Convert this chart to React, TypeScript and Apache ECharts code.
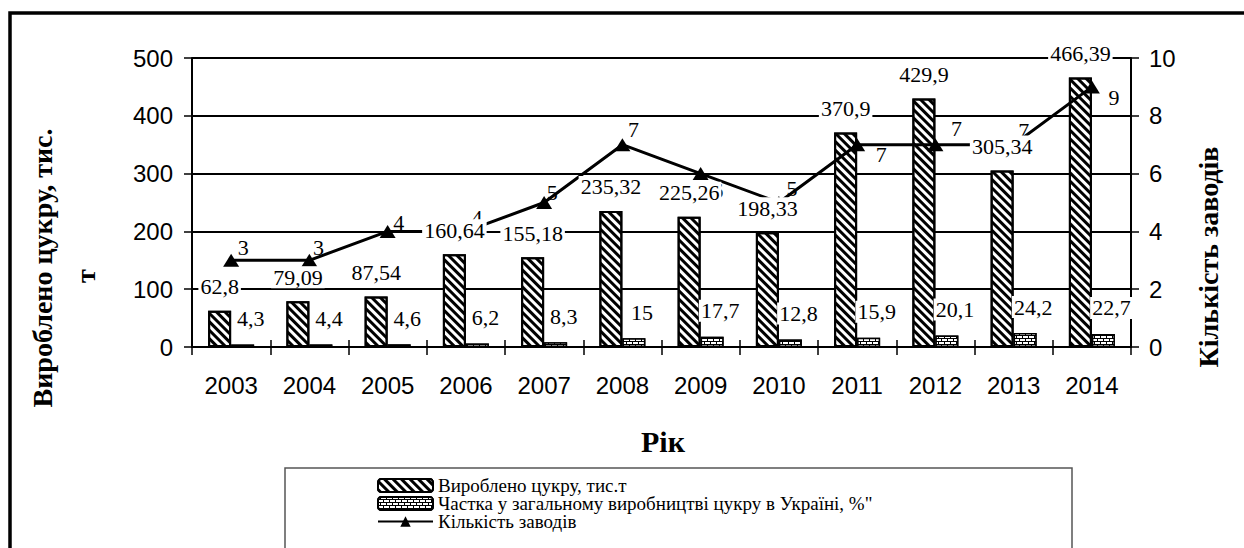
import React, { useEffect, useRef } from "react";
import * as echarts from "echarts";

const years = ["2003", "2004", "2005", "2006", "2007", "2008", "2009", "2010", "2011", "2012", "2013", "2014"];
const sugarProduced = [62.8, 79.09, 87.54, 160.64, 155.18, 235.32, 225.26, 198.33, 370.9, 429.9, 305.34, 466.39];
const shareUkraine = [4.3, 4.4, 4.6, 6.2, 8.3, 15, 17.7, 12.8, 15.9, 20.1, 24.2, 22.7];
const plantsCount = [3, 3, 4, 4, 5, 7, 6, 5, 7, 7, 7, 9];

const seriesNames = [
  "Вироблено цукру, тис.т",
  "Частка у загальному виробництві цукру в Україні, %\"",
  "Кількість заводів",
];
const leftTitle = "Вироблено цукру, тис.";
const leftTitle2 = "т";
const rightTitle = "Кількість заводів";
const xTitle = "Рік";

// label placement (style only)
const lineLabelOffsets = [
  [12, -13], [9, -13], [11, -9], [11, -14], [8, -10], [11, -15],
  [17, 17], [13, -14], [24, 10], [21, -16], [10, -14], [22, 11],
];

const fmt = (v: number) => String(v).replace(".", ",");

export default function App() {
  const ref = useRef<HTMLDivElement>(null);
  useEffect(() => {
    if (!ref.current) return;
    const chart = echarts.init(ref.current, undefined, { renderer: "svg" });
    const serif = "Liberation Serif";
    const sans = "Liberation Sans";
    const hatch = {
      symbol: "rect",
      symbolSize: 1,
      color: "#000",
      dashArrayX: [1, 0],
      dashArrayY: [2.5, 2.5],
      rotation: Math.PI / 4,
    };
    const brick = {
      symbol: "rect",
      symbolSize: 1,
      color: "#fff",
      dashArrayX: [[5, 1], [2, 1, 3, 0]],
      dashArrayY: [2, 1],
    };
    const barLabelBase = {
      show: true,
      position: "top",
      fontFamily: serif,
      fontSize: 22,
      color: "#000",
      backgroundColor: "#fff",
      padding: [0, 2],
      formatter: (p: any) => fmt(p.value),
    };
    const option: any = {
      animation: false,
      backgroundColor: "#fff",
      grid: { left: 192, right: 113, top: 58, bottom: 201, containLabel: false },
      legend: {
        data: seriesNames,
        orient: "vertical",
        left: 377,
        top: 476,
        itemWidth: 55,
        itemHeight: 13,
        itemGap: -1,
        padding: 0,
        selectedMode: false,
        textStyle: { fontFamily: serif, fontSize: 19, color: "#000" },
      },
      xAxis: [
        {
          type: "category",
          data: years,
          axisLine: { lineStyle: { color: "#000", width: 2 } },
          axisTick: { show: true, length: 8, lineStyle: { color: "#000", width: 1.5 } },
          axisLabel: { fontFamily: sans, fontSize: 24, color: "#000", margin: 26 },
        },
        {
          type: "category",
          data: years,
          position: "bottom",
          show: true,
          axisLine: { show: false },
          axisTick: { show: true, inside: true, length: 7, lineStyle: { color: "#000", width: 1.5 } },
          axisLabel: { show: false },
        },
      ],
      yAxis: [
        {
          type: "value",
          min: 0,
          max: 500,
          interval: 100,
          axisLine: { show: true, lineStyle: { color: "#000", width: 2 } },
          axisTick: { show: true, length: 8, lineStyle: { color: "#000", width: 1.5 } },
          axisLabel: { fontFamily: sans, fontSize: 24, color: "#000", margin: 19 },
          splitLine: { show: true, lineStyle: { color: "#000", width: 2 } },
        },
        {
          type: "value",
          min: 0,
          max: 10,
          interval: 2,
          position: "right",
          axisLine: { show: true, lineStyle: { color: "#000", width: 2 } },
          axisTick: { show: true, length: 8, lineStyle: { color: "#000", width: 1.5 } },
          axisLabel: { fontFamily: sans, fontSize: 24, color: "#000", margin: 18 },
          splitLine: { show: false },
        },
      ],
      series: [
        {
          name: seriesNames[0],
          type: "bar",
          z: 2,
          barWidth: 23,
          barGap: "0%",
          data: sugarProduced,
          itemStyle: { color: "#fff", borderColor: "#000", borderWidth: 2, decal: hatch },
        },
        {
          name: seriesNames[1],
          type: "bar",
          z: 2,
          barWidth: 23,
          barGap: "0%",
          data: shareUkraine,
          itemStyle: { color: "#000", borderColor: "#000", borderWidth: 1.5, decal: brick },
        },
        {
          name: seriesNames[2],
          type: "line",
          z: 3,
          yAxisIndex: 1,
          data: plantsCount.map((v, i) => ({ value: v, label: { offset: lineLabelOffsets[i] } })),
          symbol: "triangle",
          symbolSize: [16, 13],
          lineStyle: { color: "#000", width: 3 },
          itemStyle: { color: "#000" },
          label: {
            show: true,
            position: "inside",
            fontFamily: serif,
            fontSize: 22,
            color: "#000",
          },
        },
        {
          name: "_lbl_sugar",
          type: "bar",
          xAxisIndex: 1,
          z: 4,
          silent: true,
          barWidth: 23,
          barGap: "0%",
          data: sugarProduced,
          itemStyle: { color: "rgba(0,0,0,0)" },
          label: { ...barLabelBase, distance: 13 },
        },
        {
          name: "_lbl_share",
          type: "bar",
          xAxisIndex: 1,
          z: 4,
          silent: true,
          barWidth: 23,
          barGap: "0%",
          data: shareUkraine,
          itemStyle: { color: "rgba(0,0,0,0)" },
          label: { ...barLabelBase, distance: 15, offset: [8, 0] },
        },
      ],
      graphic: [
        {
          type: "rect",
          z: -1,
          shape: { x: 10, y: 13, width: 1260, height: 560 },
          style: { fill: "none", stroke: "#000", lineWidth: 3.5 },
        },
        {
          type: "rect",
          z: -1,
          shape: { x: 285, y: 468, width: 787, height: 100 },
          style: { fill: "none", stroke: "#555", lineWidth: 1.5 },
        },
        {
          type: "text",
          x: 42,
          y: 268,
          rotation: Math.PI / 2,
          style: { text: leftTitle, font: `bold 28px "${serif}"`, fill: "#000", align: "center", verticalAlign: "middle" },
        },
        {
          type: "text",
          x: 85,
          y: 276,
          rotation: Math.PI / 2,
          style: { text: leftTitle2, font: `bold 28px "${serif}"`, fill: "#000", align: "center", verticalAlign: "middle" },
        },
        {
          type: "text",
          x: 1208,
          y: 257,
          rotation: Math.PI / 2,
          style: { text: rightTitle, font: `bold 28px "${serif}"`, fill: "#000", align: "center", verticalAlign: "middle" },
        },
        {
          type: "text",
          x: 663,
          y: 441,
          style: { text: xTitle, font: `bold 30px "${serif}"`, fill: "#000", align: "center", verticalAlign: "middle" },
        },
      ],
    };
    chart.setOption(option);
    return () => chart.dispose();
  }, []);
  return (
    <div
      ref={ref}
      style={{ position: "absolute", left: 0, top: 0, width: 1244, height: 548 }}
    />
  );
}
